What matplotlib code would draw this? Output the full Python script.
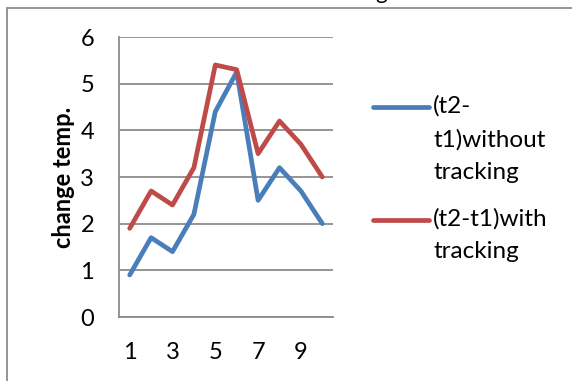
import matplotlib
matplotlib.use('Agg')
import matplotlib.pyplot as plt
from matplotlib.lines import Line2D
from matplotlib.patches import Rectangle

plt.rcParams['font.family'] = ['Lato', 'DejaVu Sans']

# readings for the ten runs
runs = list(range(1, 11))
without_tracking = [0.9, 1.7, 1.4, 2.2, 4.4, 5.25, 2.5, 3.2, 2.7, 2.0]
with_tracking = [1.9, 2.7, 2.4, 3.2, 5.4, 5.3, 3.5, 4.2, 3.7, 3.0]
labels = ['(t2-\nt1)without\ntracking', '(t2-t1)with\ntracking']
colors = ['#4a7ebb', '#be4b48']
x_ticks = [1, 3, 5, 7, 9]
y_ticks = [0, 1, 2, 3, 4, 5, 6]

W, H = 572, 381
fig = plt.figure(figsize=(W / 100, H / 100), dpi=100)
ax = fig.add_axes([119 / W, 1 - 317 / H, (333 - 119) / W, (317 - 37) / H])

grey = '#8c8c8c'
for series, color in zip([without_tracking, with_tracking], colors):
    ax.plot(runs, series, color=color, lw=3.4, solid_capstyle='round',
            solid_joinstyle='round')

ax.set_xlim(0.5, 10.5)
ax.set_ylim(0, 6)
ax.set_xticks(x_ticks)
ax.set_yticks(y_ticks)
ax.tick_params(length=0, labelsize=17, pad=18, colors='black')
ax.grid(axis='y', color=grey, lw=1.3)
ax.set_axisbelow(True)
for side in ['top', 'right']:
    ax.spines[side].set_visible(False)
for side in ['left', 'bottom']:
    ax.spines[side].set_color(grey)
    ax.spines[side].set_linewidth(1.3)
ax.set_ylabel('change temp.', fontsize=17, fontweight='bold', labelpad=4)

# legend keys on the right, key line level with the first text line
for label, color, y in zip(labels, colors, [107, 220]):
    fig.add_artist(Line2D([373 / W, 429 / W], [1 - y / H, 1 - y / H],
                          color=color, lw=3.4, solid_capstyle='round'))
    fig.text(433 / W, 1 - (y - 12) / H, label, fontsize=17.5, va='top',
             ha='left', linespacing=1.7)

# chart border, cut by the page edge on the right and bottom
fig.add_artist(Rectangle((6.5 / W, -0.05), 1.1, 1 - 8 / H + 0.05,
                         transform=fig.transFigure, fill=False,
                         edgecolor=grey, lw=1.3))
fig.text(381 / W, 1 + 1 / H, 'g', fontsize=16, ha='center', va='baseline')

fig.savefig('out.png', dpi=100)
